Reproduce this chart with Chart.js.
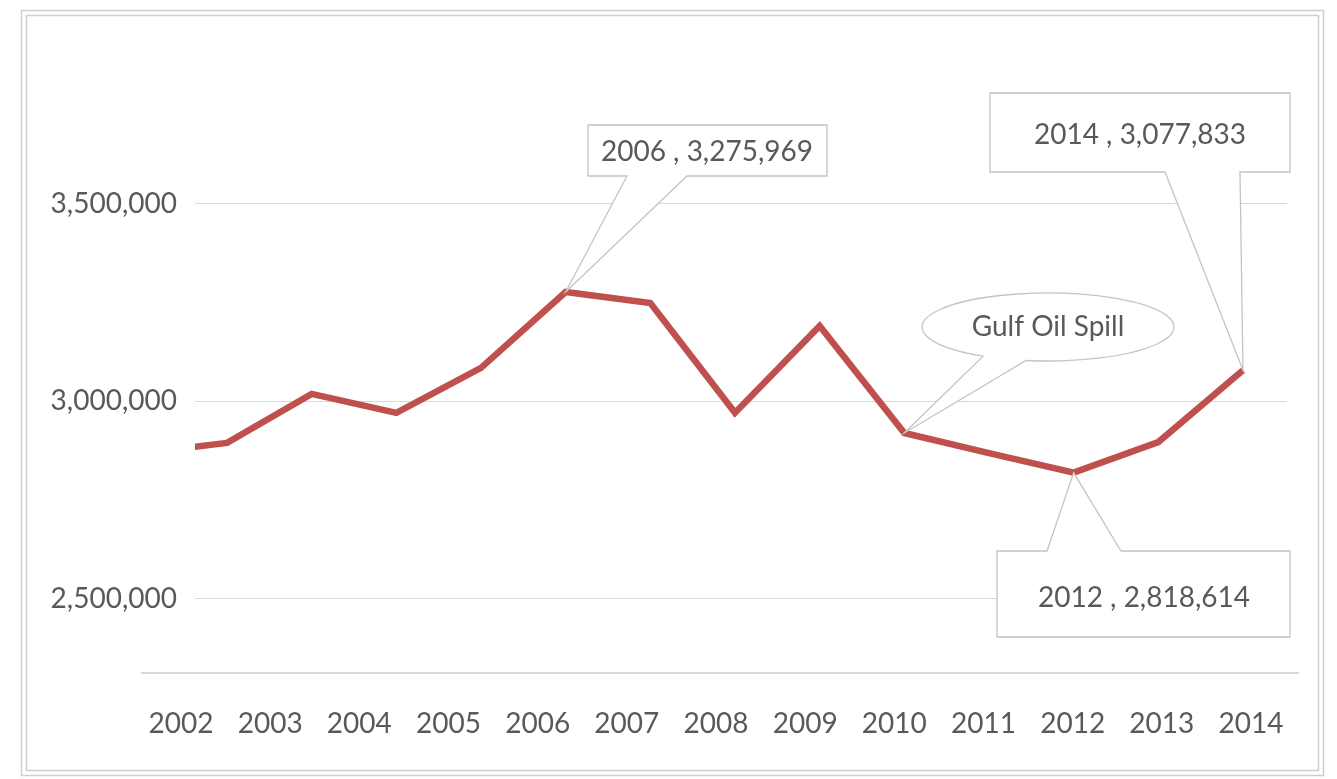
<!DOCTYPE html>
<html>
<head>
<meta charset="utf-8">
<script src="https://cdn.jsdelivr.net/npm/chart.js@4.4.1/dist/chart.umd.min.js"></script>
<style>
  html, body { margin: 0; padding: 0; background: #ffffff; }
  #wrap { position: relative; width: 1337px; height: 779px; }
</style>
</head>
<body>
<div id="wrap"><canvas id="c" width="1337" height="779"></canvas></div>
<script>
// ---- data ----
const years = [2001, 2002, 2003, 2004, 2005, 2006, 2007, 2008, 2009, 2010, 2011, 2012, 2013, 2014];
const visitors = [2868000, 2894000, 3018000, 2970000, 3084000, 3275969, 3248000, 2970000, 3190000, 2919000, 2868000, 2818614, 2896000, 3077833];
const axisYears = ['2002', '2003', '2004', '2005', '2006', '2007', '2008', '2009', '2010', '2011', '2012', '2013', '2014'];
const yTickValues = [2500000, 3000000, 3500000];
const valueCallouts = [2006, 2012, 2014];
const noteCallout = { year: 2010, text: 'Gulf Oil Spill' };

const FONT = 'Lato, "Open Sans", sans-serif';
const TEXT = '#595959';
const fmt = v => v.toLocaleString('en-US');

const calloutPlugin = {
  id: 'callouts',
  afterLayout(chart) {
    // the category labels of the source span wider than the plot area
    const s = chart.scales.xl;
    s.left = 142; s.right = 1298; s.width = s.right - s.left;
    s.configure();
  },
  afterDraw(chart) {
    const ctx = chart.ctx;
    const meta = chart.getDatasetMeta(0);
    const pt = yr => meta.data[years.indexOf(yr)];
    ctx.save();
    ctx.lineWidth = 1.3;
    ctx.strokeStyle = '#c4c4c4';
    ctx.fillStyle = '#ffffff';
    ctx.lineJoin = 'miter';

    function boxDown(x0, y0, x1, y1, bL, bR, tip, label, tx, ty) {
      ctx.beginPath();
      ctx.moveTo(x0, y0); ctx.lineTo(x1, y0); ctx.lineTo(x1, y1);
      ctx.lineTo(bR, y1); ctx.lineTo(tip.x, tip.y); ctx.lineTo(bL, y1);
      ctx.lineTo(x0, y1); ctx.closePath();
      ctx.fillStyle = '#ffffff'; ctx.fill(); ctx.stroke();
      drawText(label, tx, ty);
    }
    function boxUp(x0, y0, x1, y1, bL, bR, tip, label, tx, ty) {
      ctx.beginPath();
      ctx.moveTo(x0, y0); ctx.lineTo(bL, y0); ctx.lineTo(tip.x, tip.y); ctx.lineTo(bR, y0);
      ctx.lineTo(x1, y0); ctx.lineTo(x1, y1); ctx.lineTo(x0, y1); ctx.closePath();
      ctx.fillStyle = '#ffffff'; ctx.fill(); ctx.stroke();
      drawText(label, tx, ty);
    }
    function drawText(label, tx, ty) {
      ctx.fillStyle = TEXT;
      ctx.font = '28px ' + FONT;
      ctx.textAlign = 'center';
      ctx.textBaseline = 'middle';
      ctx.fillText(label, tx, ty);
    }
    const lab = yr => yr + ' , ' + fmt(visitors[years.indexOf(yr)]);

    boxDown(588, 125, 827, 176, 627, 687, pt(valueCallouts[0]), lab(valueCallouts[0]), 707, 152);
    boxDown(990, 93, 1290, 172, 1165, 1240, pt(valueCallouts[2]), lab(valueCallouts[2]), 1140, 135);
    boxUp(997, 551, 1290, 637, 1047, 1121, pt(valueCallouts[1]), lab(valueCallouts[1]), 1144, 598);

    // ellipse note
    const cx = 1048, cy = 327, rx = 126, ry = 34;
    const a1 = 121 * Math.PI / 180, a2 = 100 * Math.PI / 180 + Math.PI * 2;
    const tip = pt(noteCallout.year);
    ctx.beginPath();
    ctx.ellipse(cx, cy, rx, ry, 0, a1, a2, false);
    ctx.lineTo(tip.x, tip.y);
    ctx.closePath();
    ctx.fillStyle = '#ffffff'; ctx.fill(); ctx.stroke();
    ctx.fillStyle = TEXT;
    ctx.font = '28px ' + FONT;
    ctx.textAlign = 'center'; ctx.textBaseline = 'middle';
    ctx.fillText(noteCallout.text, cx, cy);

    // outer double frame
    ctx.strokeStyle = '#cfcfcf';
    ctx.lineWidth = 1.5;
    ctx.strokeRect(21.5, 10.5, 1302, 765);
    ctx.strokeRect(26.5, 15.5, 1292, 755);
    ctx.restore();
  }
};

new Chart(document.getElementById('c'), {
  type: 'line',
  data: {
    datasets: [{
      data: years.map((y, i) => ({ x: y, y: visitors[i] })),
      borderColor: '#c0504d',
      borderWidth: 6.5,
      borderJoinStyle: 'miter',
      borderCapStyle: 'butt',
      pointRadius: 0,
      tension: 0,
      fill: false,
      xAxisID: 'x',
      yAxisID: 'y'
    }]
  },
  options: {
    responsive: false,
    animation: false,
    devicePixelRatio: 1,
    layout: { padding: { left: 0, top: 95, right: 50, bottom: 0 } },
    plugins: { legend: { display: false }, tooltip: { enabled: false }, title: { display: false } },
    scales: {
      x: {
        type: 'linear', display: false,
        min: 2001.622, max: 2014.52
      },
      xl: {
        type: 'linear', position: 'bottom',
        min: 2001.563, max: 2014.527,
        afterBuildTicks: s => { s.ticks = axisYears.map(t => ({ value: Number(t) })); },
        afterFit: s => { s.height = 106; },
        grid: { display: false, drawTicks: false },
        border: { display: true, color: '#d9d9d9', width: 2 },
        ticks: {
          autoSkip: false, maxRotation: 0, minRotation: 0,
          padding: 34,
          color: TEXT,
          font: { family: FONT, size: 28 },
          callback: v => axisYears[axisYears.indexOf(String(v))]
        }
      },
      y: {
        type: 'linear', position: 'left',
        min: 2311400, max: 3774700,
        afterBuildTicks: s => { s.ticks = yTickValues.map(v => ({ value: v })); },
        afterFit: s => { s.width = 195; },
        grid: { color: '#d9d9d9', lineWidth: 1, drawTicks: false },
        border: { display: false },
        ticks: {
          padding: 18,
          color: TEXT,
          font: { family: FONT, size: 28 },
          callback: v => fmt(v)
        }
      }
    }
  },
  plugins: [calloutPlugin]
});
</script>
</body>
</html>
